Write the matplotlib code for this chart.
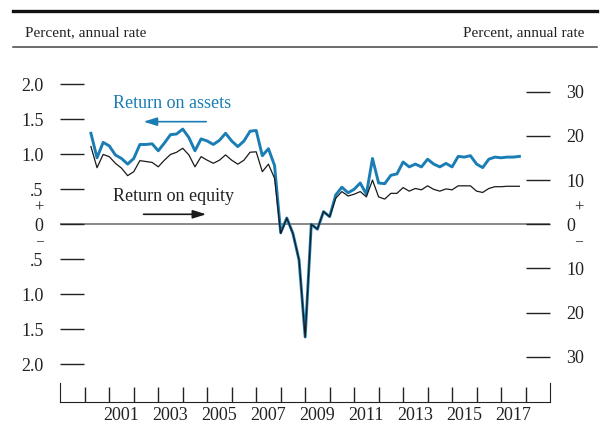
import numpy as np
import matplotlib
matplotlib.use("Agg")
import matplotlib.pyplot as plt
from matplotlib.lines import Line2D
from matplotlib.transforms import blended_transform_factory

plt.rcParams['font.family'] = ['Liberation Serif', 'DejaVu Serif']

# quarterly, 2000:Q1 - 2017:Q3
roa = [1.30, 0.95, 1.17, 1.12,
       0.99, 0.94, 0.86, 0.94,
       1.14, 1.14, 1.15, 1.05,
       1.16, 1.28, 1.29, 1.36,
       1.24, 1.05, 1.22, 1.19,
       1.14, 1.20, 1.30, 1.19,
       1.11, 1.19, 1.33, 1.34,
       0.98, 1.08, 0.84, -0.12,
       0.09, -0.13, -0.51, -1.61,
       0.00, -0.07, 0.18, 0.11,
       0.42, 0.53, 0.45, 0.50,
       0.59, 0.43, 0.94, 0.59,
       0.58, 0.70, 0.72, 0.89,
       0.82, 0.86, 0.82, 0.93,
       0.86, 0.82, 0.87, 0.82,
       0.97, 0.96, 0.98, 0.86,
       0.81, 0.93, 0.96, 0.95,
       0.96, 0.96, 0.97]

roe = [17.6, 12.8, 15.8, 15.3,
       13.8, 12.7, 11.0, 11.9,
       14.4, 14.2, 14.0, 13.0,
       14.5, 15.8, 16.3, 17.2,
       15.7, 13.0, 15.3, 14.5,
       13.8, 14.5, 15.7, 14.5,
       13.6, 14.5, 16.3, 16.4,
       11.9, 13.6, 10.4, -2.1,
       1.4, -2.1, -8.0, -25.5,
       0.0, -1.1, 2.9, 1.7,
       5.9, 7.4, 6.4, 6.8,
       7.4, 6.2, 10.0, 6.2,
       5.7, 7.0, 7.0, 8.3,
       7.5, 8.1, 7.8, 8.7,
       7.9, 7.5, 8.0, 7.8,
       8.7, 8.7, 8.7, 7.5,
       7.2, 8.1, 8.5, 8.5,
       8.6, 8.6, 8.6]

start_year = 2000
left_ticks = [-2.0, -1.5, -1.0, -0.5, 0, 0.5, 1.0, 1.5, 2.0]
left_labels = ['2.0', '1.5', '1.0', '.5', '0', '.5', '1.0', '1.5', '2.0']
right_ticks = [-30, -20, -10, 0, 10, 20, 30]
right_labels = ['30', '20', '10', '0', '10', '20', '30']
year_labels = [str(y) for y in range(2001, 2018, 2)]

blue = '#1a7db5'
ink = '#222222'

# quarter-end dates
t = start_year + 0.25 * (np.arange(len(roa)) + 1)

fig = plt.figure(figsize=(6, 4.24), dpi=100)
ax = fig.add_axes([0.1005, 0.0526, 0.8162, 0.8059])
ax2 = ax.twinx()

ax.set_xlim(1999, 2019)
ax.set_ylim(-2.534, 2.347)
ax2.set_ylim(-40.14, 37.17)

ax.axhline(0, color='#888888', lw=1.4, zorder=1)
ax.plot(t, roa, color=blue, lw=2.1, zorder=3)
ax2.plot(t, roe, color='#1a1a1a', lw=0.9, zorder=3)

# spines: bottom axis plus short end posts
for s in ['top', 'right']:
    ax.spines[s].set_visible(False)
for s in ['top', 'left', 'bottom']:
    ax2.spines[s].set_visible(False)
ax.spines['bottom'].set_color(ink)
ax.spines['left'].set_color(ink)
ax.spines['left'].set_bounds(-2.534, -2.534 + 18.7 / 70)
ax2.spines['right'].set_color(ink)
ax2.spines['right'].set_bounds(-40.14, -40.14 + 18.7 / 4.42)

ax.set_xticks(np.arange(2000, 2019))
ax.set_xticklabels([])
ax.set_xticks(np.arange(2001.5, 2018, 2), labels=year_labels, minor=True)
ax.tick_params(axis='x', which='major', direction='in', length=10.8,
               width=1, color=ink)
ax.tick_params(axis='x', which='minor', length=0, pad=4, labelsize=13,
               labelcolor=ink)

ax.set_yticks(left_ticks, labels=left_labels)
ax.tick_params(axis='y', direction='in', length=17, width=1, color=ink,
               pad=12, labelsize=13, labelcolor=ink)
ax2.set_yticks(right_ticks, labels=right_labels)
ax2.tick_params(axis='y', direction='in', length=17, width=1, color=ink,
                pad=11.5, labelsize=13, labelcolor=ink)

# sign markers beside the zero labels
tl = blended_transform_factory(ax.transAxes, ax.transData)
ax.text(-0.043, 0.235, '+', transform=tl, ha='center', va='center',
        fontsize=12, color=ink)
ax.text(-0.043, -0.25, '–', transform=tl, ha='center', va='center',
        fontsize=10, color=ink)
tr = blended_transform_factory(ax2.transAxes, ax2.transData)
ax2.text(1.059, 3.7, '+', transform=tr, ha='center', va='center',
         fontsize=12, color=ink)
ax2.text(1.059, -3.95, '–', transform=tr, ha='center', va='center',
         fontsize=10, color=ink)

# series labels with arrows
ax.text(2001.17, 1.729, 'Return on assets', color=blue, fontsize=13,
        ha='left', va='center')
ax.annotate('', xy=(2002.40, 1.466), xytext=(2004.96, 1.466),
            arrowprops=dict(arrowstyle='-|>,head_length=0.8,head_width=0.25',
                            color=blue, lw=1.2, shrinkA=0, shrinkB=0))
ax.text(2001.17, 0.404, 'Return on equity', color=ink, fontsize=13,
        ha='left', va='center')
ax.annotate('', xy=(2004.96, 0.143), xytext=(2002.40, 0.143),
            arrowprops=dict(arrowstyle='-|>,head_length=0.8,head_width=0.25',
                            color='#1a1a1a', lw=1.2, shrinkA=0, shrinkB=0))

# header rules and unit captions
fig.add_artist(Line2D([12.7 / 600, 597 / 600], [1 - 11 / 424, 1 - 11 / 424],
                      color='#111111', lw=2.4))
fig.add_artist(Line2D([12.7 / 600, 597 / 600], [1 - 47.3 / 424, 1 - 47.3 / 424],
                      color='#444444', lw=1.1))
fig.text(25 / 600, 1 - 32.3 / 424, 'Percent, annual rate', fontsize=11,
         color=ink, ha='left', va='center')
fig.text(584.3 / 600, 1 - 32.3 / 424, 'Percent, annual rate', fontsize=11,
         color=ink, ha='right', va='center')

fig.savefig('out.png', dpi=100)
